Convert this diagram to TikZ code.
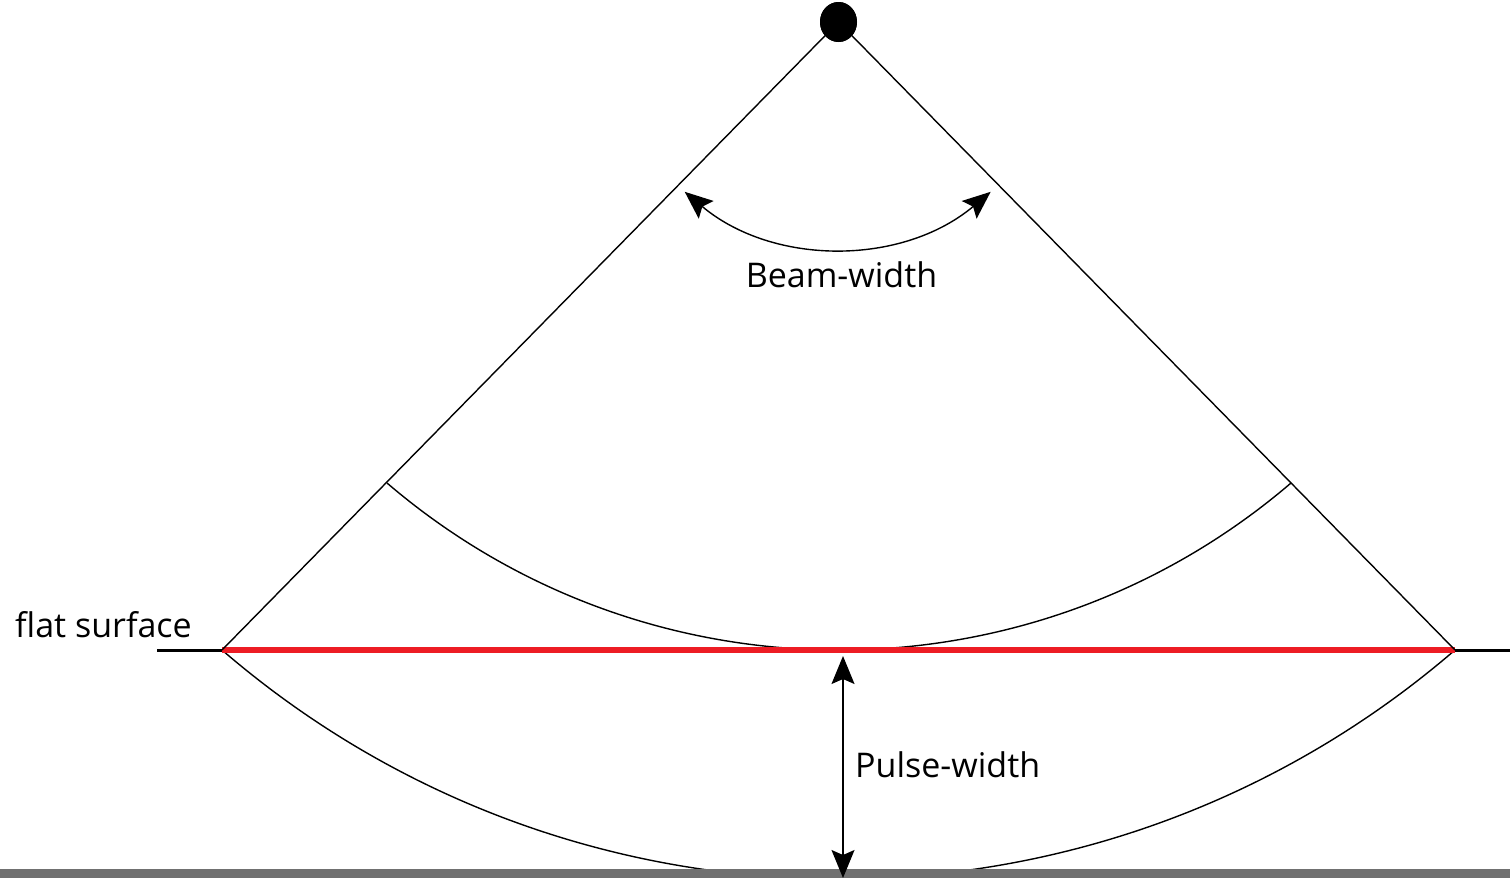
\documentclass[tikz,border=0pt]{standalone}
\usepackage{fontspec}
\setmainfont{Open Sans}
\usetikzlibrary{arrows.meta,shapes.geometric}
\definecolor{surfred}{RGB}{237,28,36}
\definecolor{bandgray}{RGB}{112,112,112}
\tikzset{
  thin line/.style={line width=1.4pt, black},
  dim arrow/.style={line width=1.4pt, black, {Stealth[length=28pt,width=23pt,inset=5pt]}-{Stealth[length=28pt,width=23pt,inset=5pt]}},
  label text/.style={font=\fontsize{34}{40}\selectfont, inner sep=0pt},
  apexdot/.style={ellipse, fill=black, minimum width=37pt, minimum height=40pt, inner sep=0pt}
}
\begin{document}
\begin{tikzpicture}[x=1pt,y=1pt]
\useasboundingbox (0,0) rectangle (1510,-878);
\fill[white] (0,0) rectangle (1510,-878);
\begin{scope}
\clip (0,0) rectangle (1510,-878);
% coordinates
\coordinate (L) at (222,-650);
\coordinate (R) at (1455,-650);
\coordinate (IL) at (387,-483);
\coordinate (FL) at (157,-650);
\coordinate (FR) at (1510,-650);
% outer arc
\draw[thin line] (L) arc[start angle=229.23, end angle=310.77, radius=944.1pt];
% inner arc
\draw[thin line] (IL) arc[start angle=229.43, end angle=310.57, radius=695pt];
% flat surface
\draw[line width=3pt, black] (FL) -- (FR);
\draw[line width=6pt, surfred] (L) -- (R);
% gray band
\fill[bandgray] (0,-869) rectangle (1510,-878);
% apex
\node[apexdot] (apex) at (838.5,-22) {};
\draw[thin line] (apex.center) -- (L);
\draw[thin line] (apex.center) -- (R);
\node[apexdot] at (apex.center) {};
% beam-width arrow
\coordinate (BL) at (684.7,-191.8);
\draw[dim arrow] (BL) arc[start angle=230, end angle=310, radius=238pt];
% pulse-width arrow
\coordinate (PT) at (843,-656);
\coordinate (PB) at (843,-878);
\draw[dim arrow] (PT) -- (PB);
\end{scope}
% labels
\node[label text, anchor=base] (bw) at (841.5,-287) {Beam-width};
\node[label text, anchor=base west] (pw) at (855,-777) {Pulse-width};
\node[label text, anchor=base west] (fs) at (15,-637) {flat surface};
\end{tikzpicture}
\end{document}
